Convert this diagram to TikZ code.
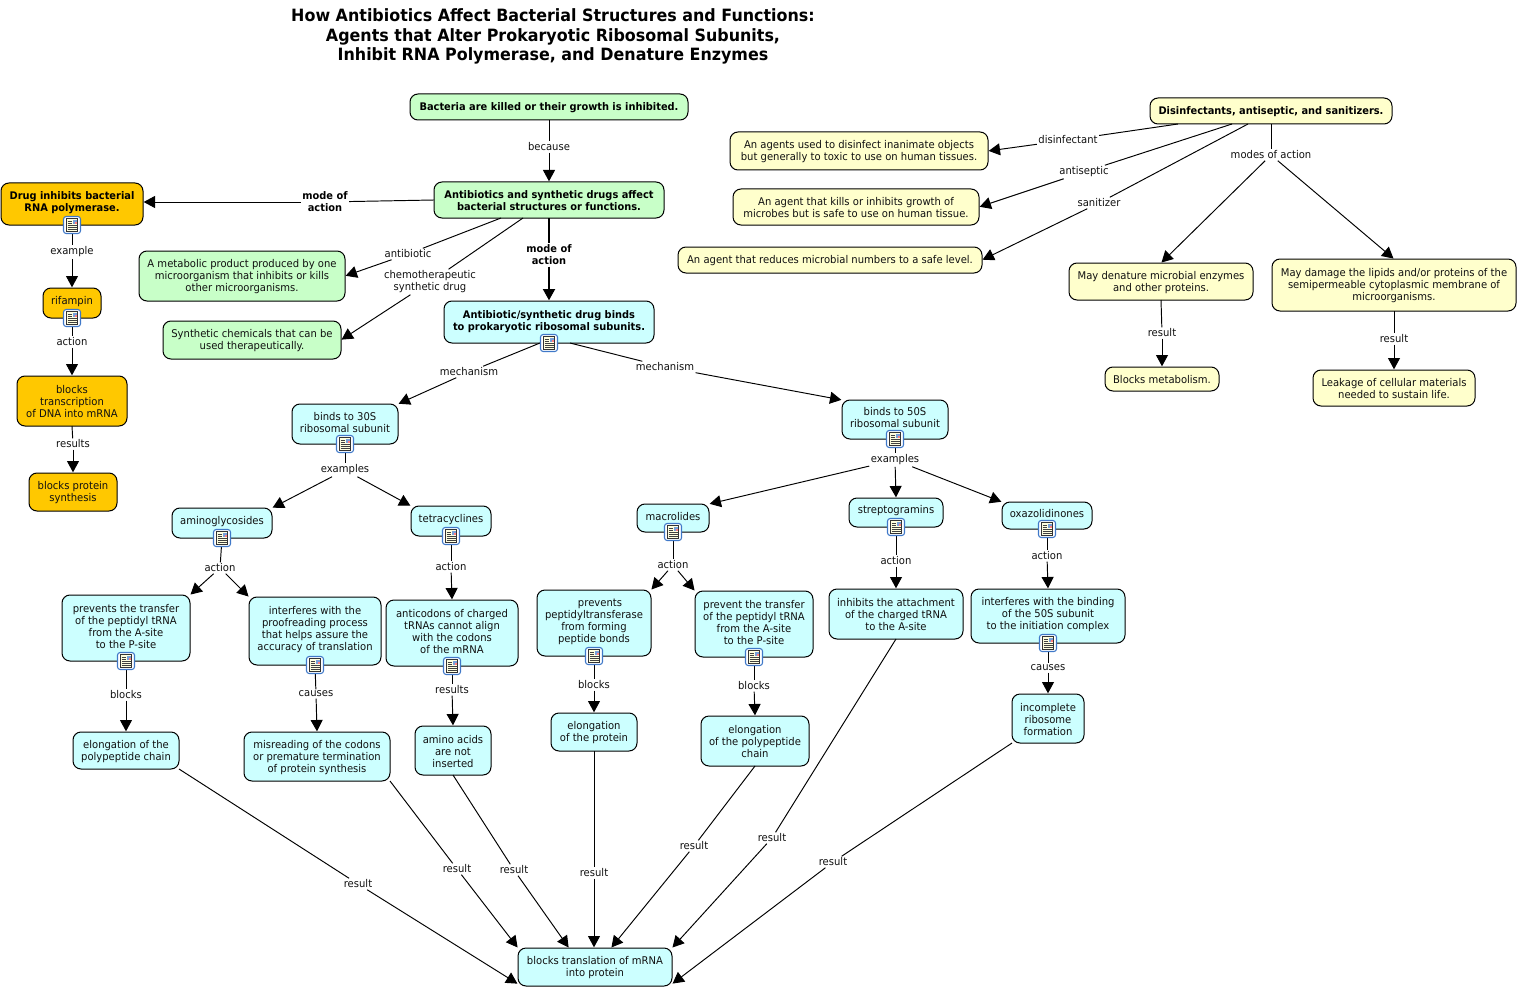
\documentclass[tikz,border=0pt]{standalone}
\usepackage{fontspec}
\setmainfont[FakeStretch=0.94]{DejaVu Sans}
\usetikzlibrary{arrows.meta,calc}
\definecolor{grn}{HTML}{C8FFC8}
\definecolor{cyn}{HTML}{CCFFFF}
\definecolor{org}{HTML}{FFC800}
\definecolor{ylw}{HTML}{FFFFCC}
\definecolor{txt}{HTML}{111111}
\definecolor{iconblue}{HTML}{3F78C8}
\newcommand{\bx}[8][]{%
  \node[box,fill=#2,#1,minimum width={(#5-#4)*0.75pt},minimum height={(#7-#6)*0.75pt}] (#3) at ({(#4+#5)/2},{(#6+#7)/2}) {\\[-1.5pt]#8}}
\tikzset{
  x=0.75pt,y=-0.75pt,
  box/.style={draw=black,line width=0.75pt,rounded corners=6pt,inner sep=0pt,outer sep=0pt,align=center,text=txt,font=\fontsize{8.0}{9}\selectfont},
  boldtxt/.style={font=\fontsize{7.85}{9}\selectfont\bfseries,text=black},
  lbl/.style={inner sep=1pt,align=center,text=txt,yshift=-0.75pt,font=\fontsize{8.0}{9}\selectfont},
  boldlbl/.style={inner sep=1pt,align=center,text=black,yshift=-0.75pt,font=\fontsize{7.85}{9}\selectfont\bfseries},
  link/.style={draw=black,line width=0.72pt},
  linka/.style={link,-{Triangle[length=8.5pt,width=9pt]},shorten >=0.5pt},
  thicklink/.style={draw=black,line width=1.5pt},
  thicka/.style={thicklink,-{Triangle[length=8.5pt,width=9pt]},shorten >=0.5pt},
  docicon/.pic={
    \draw[iconblue,line width=0.8pt,fill=white,rounded corners=2pt] (-8.5,-8.5) rectangle (8.5,8.5);
    \draw[black!80,line width=0.45pt,fill=ylw!60!white] (-5.5,-6.5) rectangle (5.5,6.5);
    \fill[iconblue!70] (0.5,-5.5) rectangle (4.5,-1.5);
    \fill[red!50] (2.5,-3.5) rectangle (4.5,-1.5);
    \foreach \yy in {0.5,2.5,4.5}{\draw[black!75,line width=0.4pt] (-4.5,\yy) -- (4.5,\yy);}
    \draw[black!75,line width=0.4pt] (-4.5,-4) -- (-0.5,-4);
    \draw[black!75,line width=0.4pt] (-4.5,-2) -- (-0.5,-2);
  }
}
\begin{document}
\begin{tikzpicture}
\useasboundingbox (0,0) rectangle (1517,988);
% title
\node[inner sep=0pt,align=center,text=black,font=\fontsize{12.7}{14.4}\selectfont\bfseries] (title) at (553,36.5) {How Antibiotics Affect Bacterial Structures and Functions:\\Agents that Alter Prokaryotic Ribosomal Subunits,\\Inhibit RNA Polymerase, and Denature Enzymes};
% green
\bx[boldtxt]{grn}{bact}{410}{688}{94}{120}{Bacteria are killed or their growth is inhibited.};
\bx[boldtxt]{grn}{abx}{434}{664}{182}{218}{Antibiotics and synthetic drugs affect\\bacterial structures or functions.};
\bx{grn}{metab}{139}{345}{251}{301}{A metabolic product produced by one\\microorganism that inhibits or kills\\other microorganisms.};
\bx{grn}{synth}{163}{341}{321}{359}{Synthetic chemicals that can be\\used therapeutically.};
% orange
\bx[boldtxt]{org}{drug}{1}{143}{183}{225}{Drug inhibits bacterial\\RNA polymerase.\\[-4.5pt]};
\bx{org}{rif}{43}{101}{288}{318}{rifampin\\[-3pt]};
\bx{org}{trans}{17}{127}{376}{426}{blocks\\transcription\\of DNA into mRNA};
\bx{org}{bprot}{29}{117}{473}{511}{blocks protein\\synthesis};
% cyan
\bx[boldtxt]{cyn}{bind}{444}{654}{301}{343}{Antibiotic/synthetic drug binds\\to prokaryotic ribosomal subunits.\\[-4.5pt]};
\bx{cyn}{b30}{292}{398}{404}{444}{binds to 30S\\ribosomal subunit\\[-4.5pt]};
\bx{cyn}{b50}{842}{948}{400}{439}{binds to 50S\\ribosomal subunit\\[-3.75pt]};
\bx{cyn}{amino}{172}{272}{508}{538}{aminoglycosides\\[-3pt]};
\bx{cyn}{tetra}{411}{491}{506}{536}{tetracyclines\\[-3pt]};
\bx{cyn}{macro}{637}{709}{504}{532}{macrolides\\[-4.5pt]};
\bx{cyn}{strep}{849}{943}{498}{527}{streptogramins\\[-2.25pt]};
\bx{cyn}{oxaz}{1002}{1092}{502}{529}{oxazolidinones\\[-3.75pt]};
\bx{cyn}{pa}{62}{190}{595}{661}{prevents the transfer\\of the peptidyl tRNA\\from the A-site\\to the P-site\\[-5.25pt]};
\bx{cyn}{pb}{249}{381}{597}{665}{interferes with the\\proofreading process\\that helps assure the\\accuracy of translation\\[-3pt]};
\bx{cyn}{pc}{386}{518}{600}{666}{anticodons of charged\\tRNAs cannot align\\with the codons\\of the mRNA\\[-4.5pt]};
\bx{cyn}{pd}{537}{651}{590}{656}{\hspace*{9pt}prevents\\peptidyltransferase\\from forming\\peptide bonds\\[-3pt]};
\bx{cyn}{pe}{695}{813}{591}{657}{prevent the transfer\\of the peptidyl tRNA\\from the A-site\\to the P-site\\[-5.25pt]};
\bx{cyn}{pf}{829}{963}{589}{639}{inhibits the attachment\\of the charged tRNA\\to the A-site};
\bx{cyn}{pg}{971}{1125}{589}{643}{interferes with the binding\\of the 50S subunit\\to the initiation complex\\[-3.75pt]};
\bx{cyn}{ra}{73}{179}{732}{769}{elongation of the\\polypeptide chain};
\bx{cyn}{rb}{244}{390}{732}{781}{misreading of the codons\\or premature termination\\of protein synthesis};
\bx{cyn}{rc}{415}{491}{726}{775}{amino acids\\are not\\inserted};
\bx{cyn}{rd}{551}{637}{713}{751}{elongation\\of the protein};
\bx{cyn}{re}{701}{809}{716}{766}{elongation\\of the polypeptide\\chain};
\bx{cyn}{rg}{1012}{1084}{694}{743}{incomplete\\ribosome\\formation};
\bx{cyn}{mrna}{518}{672}{948}{986}{blocks translation of mRNA\\into protein};
% yellow
\bx[boldtxt]{ylw}{dis}{1150}{1392}{98}{124}{Disinfectants, antiseptic, and sanitizers.};
\bx{ylw}{ya}{730}{988}{132}{170}{An agents used to disinfect inanimate objects\\but generally to toxic to use on human tissues.};
\bx{ylw}{yb}{733}{979}{189}{225}{An agent that kills or inhibits growth of\\microbes but is safe to use on human tissue.};
\bx{ylw}{yc}{678}{982}{247}{273}{An agent that reduces microbial numbers to a safe level.};
\bx{ylw}{yd}{1069}{1253}{263}{300}{May denature microbial enzymes\\and other proteins.};
\bx{ylw}{ye}{1272}{1516}{259}{311}{May damage the lipids and/or proteins of the\\semipermeable cytoplasmic membrane of\\microorganisms.};
\bx{ylw}{yf}{1105}{1219}{367}{391}{Blocks metabolism.};
\bx{ylw}{yg}{1313}{1475}{370}{406}{Leakage of cellular materials\\needed to sustain life.};
% labels
\node[lbl] (l1) at (549,146) {because};
\node[boldlbl] (l2) at (325,201) {mode of\\action};
\node[boldlbl] (l3) at (549,254) {mode of\\action};
\node[lbl] (l4) at (408,253) {antibiotic};
\node[lbl] (l5) at (430,281) {chemotherapeutic\\synthetic drug};
\node[lbl] (l6) at (72,251) {example};
\node[lbl] (l7) at (72,341) {action};
\node[lbl] (l8) at (73,443) {results};
\node[lbl] (m1) at (469,371) {mechanism};
\node[lbl] (m2) at (665,366) {mechanism};
\node[lbl] (e1) at (345,469) {examples};
\node[lbl] (e2) at (895,459) {examples};
\node[lbl] (a1) at (220,567) {action};
\node[lbl] (a2) at (451,566) {action};
\node[lbl] (a3) at (673,564) {action};
\node[lbl] (a4) at (896,560) {action};
\node[lbl] (a5) at (1047,555) {action};
\node[lbl] (c1) at (126,694) {blocks};
\node[lbl] (c2) at (316,693) {causes};
\node[lbl] (c3) at (452,689) {results};
\node[lbl] (c4) at (594,684) {blocks};
\node[lbl] (c5) at (754,685) {blocks};
\node[lbl] (c7) at (1048,667) {causes};
\node[lbl] (r1) at (358,883) {result};
\node[lbl] (r2) at (457,868) {result};
\node[lbl] (r3) at (514,869) {result};
\node[lbl] (r4) at (594,872) {result};
\node[lbl] (r5) at (694,845) {result};
\node[lbl] (r6) at (772,837) {result};
\node[lbl] (r7) at (833,861) {result};
\node[lbl] (d1) at (1068,139) {disinfectant};
\node[lbl] (d2) at (1084,171) {antiseptic};
\node[lbl] (d3) at (1099,202) {sanitizer};
\node[lbl] (d4) at (1271,154) {modes of action};
\node[lbl] (d5) at (1162,332) {result};
\node[lbl] (d6) at (1394,338) {result};
% connectors
\draw[link] (bact.south) -- (l1); \draw[linka] (l1) -- (abx.north);
\draw[link] (abx.west) -- (l2); \draw[linka] (l2) -- ($(drug.east)+(0,-2)$);
\draw[thicklink] (abx.south) -- (l3); \draw[thicka] (l3) -- (bind.north);
\draw[link] ($(abx.south)+(-48,0)$) -- (l4); \draw[linka] (l4) -- (metab.east);
\draw[link] ($(abx.south)+(-26,0)$) -- (l5); \draw[linka] (l5) -- (synth.east);
\draw[link] (drug.south) -- (l6); \draw[linka] (l6) -- (rif.north);
\draw[link] (rif.south) -- (l7); \draw[linka] (l7) -- (trans.north);
\draw[link] (trans.south) -- (l8); \draw[linka] (l8) -- (bprot.north);
\draw[link] ($(bind.south)+(-9,0)$) -- (m1); \draw[linka] (m1) -- (b30.north east);
\draw[link] ($(bind.south)+(21,0)$) -- (m2); \draw[linka] (m2) -- (b50.north west);
\draw[link] (b30.south) -- (e1); \draw[linka] (e1) -- (amino.north east); \draw[linka] (e1) -- (tetra.north west);
\draw[link] (b50.south) -- (e2); \draw[linka] (e2) -- (macro.north east); \draw[linka] (e2) -- (strep.north); \draw[linka] (e2) -- (oxaz.north west);
\draw[link] (amino.south) -- (a1); \draw[linka] (a1) -- (pa.north east); \draw[linka] (a1) -- (pb.north west);
\draw[link] (tetra.south) -- (a2); \draw[linka] (a2) -- (pc.north);
\draw[link] (macro.south) -- (a3); \draw[linka] (a3) -- (pd.north east); \draw[linka] (a3) -- (pe.north west);
\draw[link] (strep.south) -- (a4); \draw[linka] (a4) -- (pf.north);
\draw[link] (oxaz.south) -- (a5); \draw[linka] (a5) -- (pg.north);
\draw[link] (pa.south) -- (c1); \draw[linka] (c1) -- (ra.north);
\draw[link] (pb.south) -- (c2); \draw[linka] (c2) -- (rb.north);
\draw[link] (pc.south) -- (c3); \draw[linka] (c3) -- (rc.north);
\draw[link] (pd.south) -- (c4); \draw[linka] (c4) -- (rd.north);
\draw[link] (pe.south) -- (c5); \draw[linka] (c5) -- (re.north);
\draw[link] (pg.south) -- (c7); \draw[linka] (c7) -- (rg.north);
\draw[link] (ra.south east) -- (r1); \draw[linka] (r1) -- ($(mrna.south west)+(0,-2)$);
\draw[link] (rb.south east) -- (r2); \draw[linka] (r2) -- (mrna.north west);
\draw[link] (rc.south) -- (r3); \draw[linka] (r3) -- ($(mrna.north)+(-26,0)$);
\draw[link] (rd.south) -- (r4); \draw[linka] (r4) -- ($(mrna.north)+(-1,0)$);
\draw[link] (re.south) -- (r5); \draw[linka] (r5) -- ($(mrna.north)+(16,0)$);
\draw[link] (pf.south) -- (r6); \draw[linka] (r6) -- (mrna.north east);
\draw[link] (rg.south west) -- (r7); \draw[linka] (r7) -- ($(mrna.south east)+(0,-2)$);
\draw[link] ($(dis.south)+(-93,0)$) -- (d1); \draw[linka] (d1) -- (ya.east);
\draw[link] ($(dis.south)+(-39,0)$) -- (d2); \draw[linka] (d2) -- (yb.east);
\draw[link] ($(dis.south)+(-23,0)$) -- (d3); \draw[linka] (d3) -- (yc.east);
\draw[link] (dis.south) -- (d4); \draw[linka] (d4) -- (yd.north); \draw[linka] (d4) -- (ye.north);
\draw[link] (yd.south) -- (d5); \draw[linka] (d5) -- (yf.north);
\draw[link] (ye.south) -- (d6); \draw[linka] (d6) -- (yg.north);
% icons
\foreach \nm in {drug,rif,bind,b30,b50,amino,tetra,macro,strep,oxaz,pa,pb,pc,pd,pe,pg}{\pic at (\nm.south) {docicon};}
\end{tikzpicture}
\end{document}
